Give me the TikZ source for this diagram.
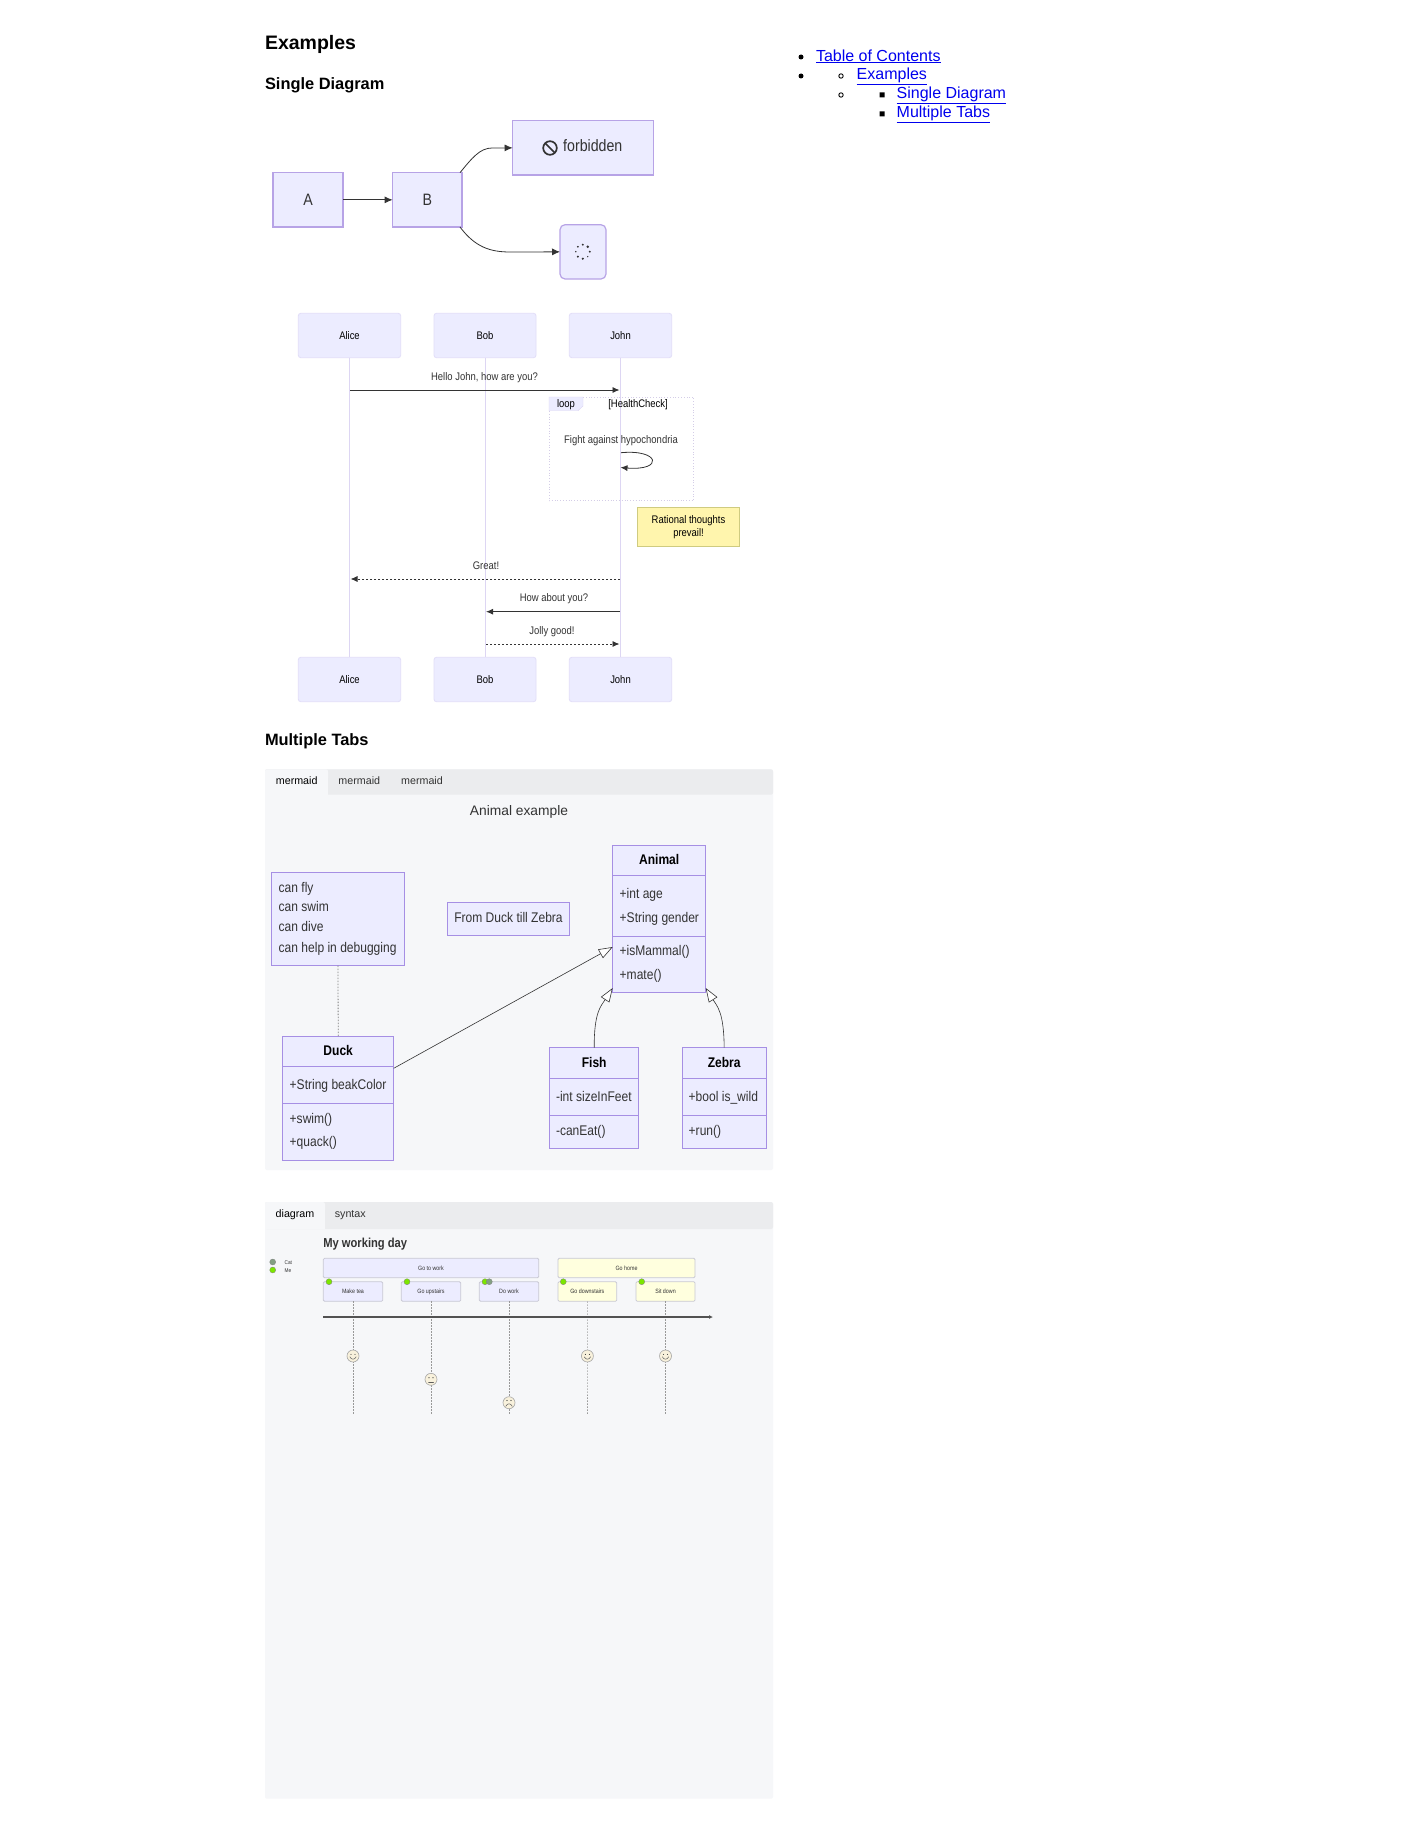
\documentclass[tikz,border=0pt]{standalone}
\usepackage{fontspec}
\setmainfont{Liberation Sans}
\newfontfamily\nar[FakeStretch=0.86]{Liberation Sans}
\usetikzlibrary{arrows.meta,calc}
\newcommand\myfs[1]{\fontsize{#1}{#1}\selectfont}
\newcommand\bx[7]{%
  \pgfmathsetmacro\bxw{#5-#3}\pgfmathsetmacro\bxh{#6-#4}%
  \pgfmathsetmacro\bxx{(#5+#3)/2}\pgfmathsetmacro\bxy{(#6+#4)/2}%
  \node[#1,minimum width=\bxw pt,minimum height=\bxh pt] (#2) at (\bxx,\bxy) {#7};}
\definecolor{panelc}{HTML}{F6F7F9}
\definecolor{tabc}{HTML}{EBECEE}
\definecolor{nodef}{HTML}{ECECFF}
\definecolor{flowb}{HTML}{B7A3E6}
\definecolor{classb}{HTML}{A68FE4}
\definecolor{seqb}{HTML}{E2DEF8}
\definecolor{lifec}{HTML}{DDD6F3}
\definecolor{inkc}{HTML}{333333}
\definecolor{notef}{HTML}{FFF5AD}
\definecolor{noteb}{HTML}{CFCB80}
\definecolor{yel}{HTML}{FFFFDE}
\definecolor{taskb}{HTML}{C8C8D4}
\definecolor{meg}{HTML}{7CE600}
\definecolor{catg}{HTML}{83A083}
\definecolor{facef}{HTML}{F8F1DC}
\definecolor{linkc}{HTML}{0000EE}
\tikzset{
  base/.style={inner sep=0pt,outer sep=0pt},
  txt/.style={base,execute at begin node={\vphantom{Ag}}},
  h1/.style={txt,anchor=west,font=\bfseries\myfs{19.5},text=black},
  h2/.style={txt,anchor=west,font=\bfseries\myfs{16.4},text=black},
  toc/.style={txt,anchor=west,font=\myfs{16},text=linkc},
  flowbox/.style={base,draw=flowb,fill=nodef,line width=1.2pt,font=\nar\myfs{16.5},text=inkc},
  flowedge/.style={draw=inkc,line width=.8pt,-{Latex[length=8pt,width=7pt]}},
  seqbox/.style={base,draw=seqb,fill=nodef,line width=.8pt,rounded corners=2.5pt,font=\nar\myfs{11},text=black},
  life/.style={draw=lifec,line width=1pt},
  seqt/.style={txt,font=\nar\myfs{11},text=inkc},
  msg/.style={draw=inkc,line width=.9pt,-{Latex[length=7pt,width=6pt]}},
  msgd/.style={msg,dash pattern=on 2pt off 2pt},
  notebox/.style={base,draw=noteb,fill=notef,line width=.8pt},
  tabt/.style={txt,font=\myfs{10.7},text=inkc},
  cls/.style={base,draw=classb,fill=nodef,line width=1pt},
  clst/.style={txt,font=\nar\bfseries\myfs{14},text=black},
  mem/.style={txt,anchor=west,font=\nar\myfs{14},text=inkc},
  inh/.style={draw=inkc,line width=.6pt,-{Triangle[length=14pt,width=10pt,fill=white]}},
  task/.style={base,draw=taskb,line width=.8pt,rounded corners=1.2pt,font=\nar\myfs{6.2},text=inkc},
  tline/.style={draw=gray!80,line width=.7pt,dash pattern=on 1.5pt off 1.5pt},
  dot/.style={base,circle,minimum size=6pt,line width=.3pt},
  facebox/.style={base,circle,draw=gray!70,fill=facef,line width=.6pt,minimum size=12pt},
  fl/.style={draw=inkc!80,line width=.5pt,line cap=round},
}
\newcommand\smilef[2]{\fill[inkc] (#1-2,#2-1.6) circle (.55) (#1+2,#2-1.6) circle (.55);
  \draw[fl] (#1-3.2,#2+.8) .. controls (#1-1.5,#2+4) and (#1+1.5,#2+4) .. (#1+3.2,#2+.8);}
\newcommand\neutralf[2]{\fill[inkc] (#1-2,#2-1.6) circle (.55) (#1+2,#2-1.6) circle (.55);
  \draw[fl] (#1-2.5,#2+2.6) -- (#1+2.5,#2+2.6);}
\newcommand\sadf[2]{\fill[inkc] (#1-2,#2-2.2) circle (.55) (#1+2,#2-2.2) circle (.55);
  \draw[fl] (#1-3.2,#2+3.6) .. controls (#1-1.5,#2+.2) and (#1+1.5,#2+.2) .. (#1+3.2,#2+3.6);}
\begin{document}
\begin{tikzpicture}[x=1pt,y=-1pt]
\useasboundingbox (0,0) rectangle (1400,1846);
\fill[white] (0,0) rectangle (1400,1846);

% headings
\node[h1] (hEx) at (265,45) {Examples};
\node[h2] (hSingle) at (265,85.7) {Single Diagram};
\node[h2] (hMulti) at (265,741.7) {Multiple Tabs};

% table of contents
\fill[black] (801,57) circle (2.5) (801,76) circle (2.5);
\draw[black,line width=.9pt] (841,76) circle (2.2) (841,95) circle (2.2);
\fill[black] (879.5,92.5) rectangle (884.5,97.5) (879.5,111.5) rectangle (884.5,116.5);
\node[toc] (t1) at (816,57) {\underline{Table of Contents}};
\node[toc] (t2) at (856.7,76) {\underline{Examples}};
\node[toc] (t3) at (896.7,95) {\underline{Single Diagram}};
\node[toc] (t4) at (896.7,114) {\underline{Multiple Tabs}};

% flowchart
\bx{flowbox}{A}{273}{172.7}{343}{227}{A}
\bx{flowbox}{B}{392.6}{172.7}{462}{227}{B}
\bx{flowbox}{forb}{512.6}{120.7}{653.6}{175}{}
\bx{flowbox,rounded corners=5pt}{spin}{560}{224.7}{606}{279}{}
\node[txt,font=\nar\myfs{16.5},text=inkc] (forbt) at (592.8,147.5) {forbidden};
\draw[inkc,line width=1.7pt] (550,148) circle (6.8);
\draw[inkc,line width=1.7pt] (545.2,143.2) -- (554.8,152.8);
\foreach \a/\r in {90/1.2,135/1.1,180/.8,225/.9,270/1.1,315/1.3,0/1.1,45/.7}{
  \fill[inkc] ($(582.8,251.7)+(\a:7)$) circle (\r);}
\draw[flowedge] (A.east) -- (B.west);
\draw[flowedge] ([xshift=-2pt]B.north east) .. controls (472,158) and (480,148) .. (492,148) -- (forb.west);
\draw[flowedge] ([xshift=-2pt]B.south east) .. controls (475,247) and (490,252) .. (510,252) -- (spin.west);

% sequence diagram
\bx{seqbox}{aT}{298.3}{313.3}{400.7}{357.7}{Alice}
\bx{seqbox}{bT}{434}{313.3}{536}{357.7}{Bob}
\bx{seqbox}{jT}{569.3}{313.3}{671.7}{357.7}{John}
\bx{seqbox}{aB}{298.3}{657.3}{400.7}{701.7}{Alice}
\bx{seqbox}{bB}{434}{657.3}{536}{701.7}{Bob}
\bx{seqbox}{jB}{569.3}{657.3}{671.7}{701.7}{John}
\draw[life] (aT) -- (aB);
\draw[life] (bT) -- (bB);
\draw[life] (jT) -- (jB);
\coordinate (a1) at (350,390); \coordinate (j1) at (619.5,390);
\draw[msg] (a1) -- (j1);
\node[seqt] (m1) at (484.5,378) {Hello John, how are you?};
% loop
\draw[draw=lifec!90!gray,line width=.8pt,dotted] (549,397) rectangle (693.7,500.7);
\fill[nodef,draw=lifec,line width=.4pt] (549,397) -- (583,397) -- (583,406) -- (578,410.7) -- (549,410.7) -- cycle;
\node[seqt,text=black] (lp) at (566,405) {loop};
\node[seqt,text=black] (hc) at (638,405) {[HealthCheck]};
\node[seqt] (fa) at (621,441) {Fight against hypochondria};
\coordinate (s1) at (621,452.7); \coordinate (s2) at (620.5,467.5);
\draw[draw=inkc,line width=.8pt,-{Latex[length=7pt,width=6pt]}] (s1) .. controls (660,449) and (664,471) .. (s2);
% note
\bx{notebox}{note}{637.3}{507.3}{739.7}{546.7}{}
\node[seqt,text=black] (n1) at (688.5,521) {Rational thoughts};
\node[seqt,text=black] (n2) at (688.5,534) {prevail!};
\coordinate (j2) at (620,579); \coordinate (a2) at (350.5,579);
\draw[msgd] (j2) -- (a2);
\node[seqt] (m2) at (486,567) {Great!};
\coordinate (j3) at (620,611.7); \coordinate (b3) at (486,611.7);
\draw[msg] (j3) -- (b3);
\node[seqt] (m3) at (554,599) {How about you?};
\coordinate (b4) at (486,644); \coordinate (j4) at (619.5,644);
\draw[msgd] (b4) -- (j4);
\node[seqt] (m4) at (552,632) {Jolly good!};

% tabs panel 1
\fill[panelc,rounded corners=2pt] (265,769.3) rectangle (773,1170);
\fill[tabc,rounded corners=2pt] (265,769.3) rectangle (773,794.7);
\fill[panelc] (265,771) rectangle (328,794.7);
\fill[panelc,rounded corners=2pt] (265,769.3) rectangle (328,780);
\node[tabt,text=black] (tb1) at (296.7,781.3) {mermaid};
\node[tabt] (tb2) at (359.3,781.3) {mermaid};
\node[tabt] (tb3) at (422,781.3) {mermaid};
\node[txt,font=\myfs{13.8},text=inkc] (ttl) at (519,812) {Animal example};

% class diagram
\bx{cls}{anT}{612.7}{845.3}{705.7}{875.3}{}
\bx{cls}{anA}{612.7}{875.3}{705.7}{936.3}{}
\bx{cls}{anM}{612.7}{936.3}{705.7}{992.7}{}
\node[clst] (anTt) at (659.2,861) {Animal};
\node[mem] (an1) at (619.7,895) {+int age};
\node[mem] (an2) at (619.7,919) {+String gender};
\node[mem] (an3) at (619.7,952) {+isMammal()};
\node[mem] (an4) at (619.7,976) {+mate()};

\bx{cls}{nt}{271.7}{872.7}{404.3}{965.7}{}
\node[mem] (nt1) at (278.7,889.3) {can fly};
\node[mem] (nt2) at (278.7,908.3) {can swim};
\node[mem] (nt3) at (278.7,928) {can dive};
\node[mem] (nt4) at (278.7,949) {can help in debugging};

\bx{cls,font=\nar\myfs{14},text=inkc,execute at begin node={\vphantom{Ag}}}{zb}{447.3}{902.7}{569.7}{935.3}{From Duck till Zebra}

\bx{cls}{duT}{282.7}{1036}{393.7}{1066.3}{}
\bx{cls}{duA}{282.7}{1066.3}{393.7}{1103.3}{}
\bx{cls}{duM}{282.7}{1103.3}{393.7}{1160.3}{}
\node[clst] (duTt) at (338.2,1051.7) {Duck};
\node[mem] (du1) at (289.7,1086) {+String beakColor};
\node[mem] (du2) at (289.7,1120) {+swim()};
\node[mem] (du3) at (289.7,1143) {+quack()};

\bx{cls}{fiT}{549.7}{1047.7}{638.7}{1078.3}{}
\bx{cls}{fiA}{549.7}{1078.3}{638.7}{1115.7}{}
\bx{cls}{fiM}{549.7}{1115.7}{638.7}{1148.3}{}
\node[clst] (fiTt) at (594.2,1063.7) {Fish};
\node[mem] (fi1) at (556,1098) {-int sizeInFeet};
\node[mem] (fi2) at (556,1132) {-canEat()};

\bx{cls}{zeT}{682}{1047.7}{766.3}{1078.3}{}
\bx{cls}{zeA}{682}{1078.3}{766.3}{1115.7}{}
\bx{cls}{zeM}{682}{1115.7}{766.3}{1148.3}{}
\node[clst] (zeTt) at (724.2,1063.7) {Zebra};
\node[mem] (ze1) at (688.7,1098) {+bool is\_wild};
\node[mem] (ze2) at (688.7,1132) {+run()};

\draw[draw=gray,line width=.8pt,dash pattern=on 1.5pt off 1.5pt] (nt.south) -- (duT.north);
\draw[inh] ([yshift=-2pt]duA.north east) -- ([yshift=-10.7pt]anM.north west);
\draw[inh] (fiT.north) .. controls (594,1012) and (601,1006) .. ([yshift=4.7pt]anM.south west);
\draw[inh] (zeT.north) .. controls (724,1012) and (717,1006) .. ([yshift=4.7pt]anM.south east);

% tabs panel 2
\fill[panelc,rounded corners=2pt] (265,1202) rectangle (773,1798.7);
\fill[tabc,rounded corners=2pt] (265,1202) rectangle (773,1229);
\fill[panelc] (265,1204) rectangle (325,1229);
\fill[panelc,rounded corners=2pt] (265,1202) rectangle (325,1212);
\node[tabt,text=black] (tb4) at (295,1215) {diagram};
\node[tabt] (tb5) at (350.3,1215) {syntax};

% journey
\node[txt,anchor=west,font=\nar\bfseries\myfs{13},text=inkc] (jt) at (323.3,1244.3) {My working day};
\node[dot,fill=catg,draw=gray] (lgc) at (272.7,1262) {};
\node[dot,fill=meg,draw=gray] (lgm) at (272.7,1270) {};
\node[txt,anchor=west,font=\nar\myfs{5.5},text=inkc] (lgct) at (284.7,1263) {Cat};
\node[txt,anchor=west,font=\nar\myfs{5.5},text=inkc] (lgmt) at (284.7,1271) {Me};

\bx{task,fill=nodef}{gw}{323.3}{1258.3}{538.7}{1277.7}{Go to work}
\bx{task,fill=yel}{gh}{558}{1258.3}{695}{1277.7}{Go home}
\bx{task,fill=nodef}{t1b}{323.3}{1281.7}{382.7}{1301.3}{Make tea}
\bx{task,fill=nodef}{t2b}{401.3}{1281.7}{460.7}{1301.3}{Go upstairs}
\bx{task,fill=nodef}{t3b}{479.3}{1281.7}{538.7}{1301.3}{Do work}
\bx{task,fill=yel}{t4b}{558}{1281.7}{616.7}{1301.3}{Go downstairs}
\bx{task,fill=yel}{t5b}{636}{1281.7}{695}{1301.3}{Sit down}

\coordinate (e1) at (353,1414.7);
\coordinate (e2) at (431,1414.7);
\coordinate (e3) at (509,1414.7);
\coordinate (e4) at (587.4,1414.7);
\coordinate (e5) at (665.5,1414.7);
\draw[tline] (t1b.south) -- (e1);
\draw[tline] (t2b.south) -- (e2);
\draw[tline] (t3b.south) -- (e3);
\draw[tline] (t4b.south) -- (e4);
\draw[tline] (t5b.south) -- (e5);

\coordinate (ax1) at (323.3,1317); \coordinate (ax2) at (713,1317);
\draw[draw=inkc!85!white,line width=1.3pt,-{Latex[length=4pt,width=4pt]}] (ax1) -- (ax2);

\node[dot,fill=meg,draw=gray] (d1) at (329,1281.7) {};
\node[dot,fill=meg,draw=gray] (d2) at (407,1281.7) {};
\node[dot,fill=meg,draw=gray] (d3) at (485,1281.7) {};
\node[dot,fill=catg,draw=gray] (d3c) at (489.3,1281.7) {};
\node[dot,fill=meg,draw=gray] (d4) at (563.3,1281.7) {};
\node[dot,fill=meg,draw=gray] (d5) at (641.7,1281.7) {};

\node[facebox] (f1) at (353,1356) {};
\node[facebox] (f2) at (431,1379.3) {};
\node[facebox] (f3) at (509,1402.7) {};
\node[facebox] (f4) at (587.4,1356) {};
\node[facebox] (f5) at (665.5,1356) {};
\smilef{353}{1356}
\neutralf{431}{1379.3}
\sadf{509}{1402.7}
\smilef{587.4}{1356}
\smilef{665.5}{1356}
\end{tikzpicture}
\end{document}
